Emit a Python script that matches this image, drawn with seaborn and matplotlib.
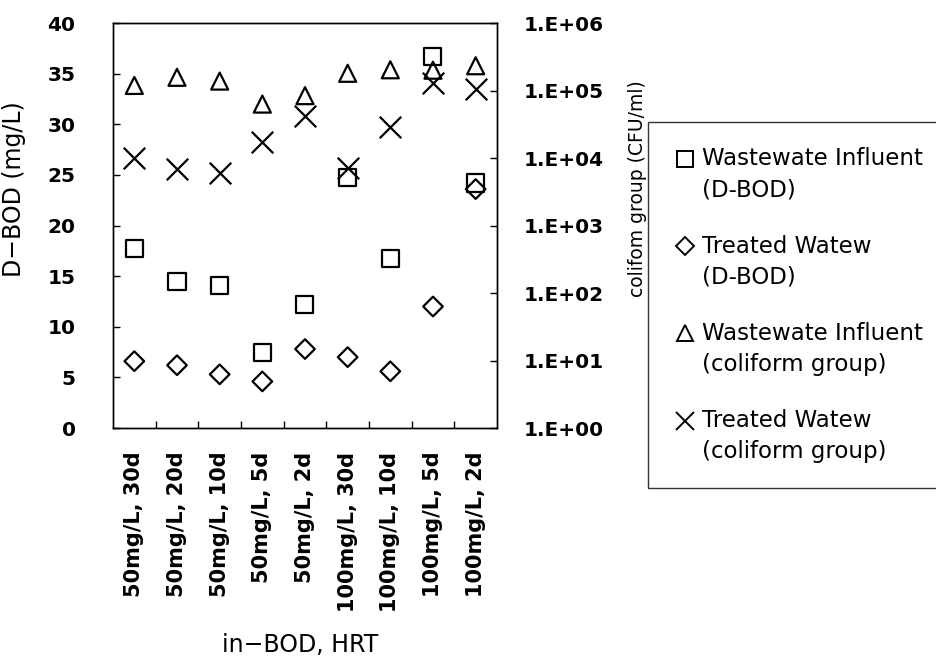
import numpy as np
import pandas as pd
import matplotlib
matplotlib.use("Agg")
import matplotlib.pyplot as plt
from matplotlib.lines import Line2D
from matplotlib.legend_handler import HandlerLine2D
from matplotlib.ticker import FixedLocator, NullLocator
import seaborn as sns

# values
conditions = ["50mg/L, 30d", "50mg/L, 20d", "50mg/L, 10d", "50mg/L, 5d", "50mg/L, 2d",
              "100mg/L, 30d", "100mg/L, 10d", "100mg/L, 5d", "100mg/L, 2d"]
dbod_influent = [17.7, 14.5, 14.1, 7.5, 12.2, 24.7, 16.7, 36.7, 24.2]
dbod_treated = [6.6, 6.2, 5.3, 4.6, 7.8, 7.0, 5.6, 12.0, 23.6]
coli_influent = [1.19e5, 1.57e5, 1.38e5, 6.3e4, 8.4e4, 1.8e5, 2.03e5, 2.0e5, 2.33e5]
coli_treated = [9.9e3, 6.8e3, 5.9e3, 1.74e4, 4.2e4, 7.1e3, 2.9e4, 1.28e5, 1.05e5]

bod_ticks = [0, 5, 10, 15, 20, 25, 30, 35, 40]
coli_ticks = [1e0, 1e1, 1e2, 1e3, 1e4, 1e5, 1e6]
coli_ticklabels = ["1.E+00", "1.E+01", "1.E+02", "1.E+03", "1.E+04", "1.E+05", "1.E+06"]

series_labels = ["Wastewate Influent\n(D-BOD)", "Treated Watew\n(D-BOD)",
                 "Wastewate Influent\n(coliform group)", "Treated Watew\n(coliform group)"]

sns.set_theme(style="white")
plt.rcParams["font.family"] = ["DejaVu Sans"]
plt.rcParams["text.color"] = "black"
plt.rcParams["axes.labelcolor"] = "black"
plt.rcParams["xtick.color"] = "black"
plt.rcParams["ytick.color"] = "black"

pos = np.arange(len(conditions))
df = pd.DataFrame({"pos": pos, "condition": conditions,
                   "bod_in": dbod_influent, "bod_out": dbod_treated,
                   "coli_in": coli_influent, "coli_out": coli_treated})

fig = plt.figure(figsize=(9.37, 6.6), dpi=100)
ax = fig.add_axes([0.1206, 0.3515, 0.4098, 0.6136])
ax2 = ax.twinx()

# D-BOD on the left axis
sns.scatterplot(data=df, x="pos", y="bod_in", marker="s", s=150, facecolor="none",
                edgecolor="black", linewidth=1.6, ax=ax, legend=False)
sns.scatterplot(data=df, x="pos", y="bod_out", marker="D", s=100, facecolor="none",
                edgecolor="black", linewidth=1.6, ax=ax, legend=False)
# coliform group on the right (log) axis
ax2.set_yscale("log")
sns.scatterplot(data=df, x="pos", y="coli_in", marker="^", s=150, facecolor="none",
                edgecolor="black", linewidth=1.6, ax=ax2, legend=False)
sns.scatterplot(data=df, x="pos", y="coli_out", marker="x", s=240, color="black",
                linewidth=1.6, ax=ax2, legend=False)

ax.set_xlim(-0.5, len(conditions) - 0.5)
ax.set_ylim(0, 40)
ax2.set_ylim(1, 1e6)

ax.set_xticks(pos)
ax.set_xticklabels(conditions, rotation=90, fontsize=15, fontweight="bold", va="top")
ax.xaxis.set_minor_locator(FixedLocator(pos[:-1] + 0.5))
ax.tick_params(axis="x", which="major", length=0, pad=17)
ax.tick_params(axis="x", which="minor", bottom=True, direction="in", length=5, width=1, color="black")

ax.set_yticks(bod_ticks)
ax.set_yticklabels([str(t) for t in bod_ticks], fontsize=14.5, fontweight="bold")
ax.tick_params(axis="y", left=True, direction="in", length=5, width=1, color="black", pad=27)

ax2.set_yticks(coli_ticks)
ax2.set_yticklabels(coli_ticklabels, fontsize=14.5, fontweight="bold")
ax2.yaxis.set_minor_locator(NullLocator())
ax2.tick_params(axis="y", right=True, direction="in", length=5, width=1, color="black", pad=19)

ax.set_xlabel("in\u2212BOD, HRT", fontsize=17)
ax.xaxis.set_label_coords(0.487, -0.505)
ax.set_ylabel("D\u2212BOD (mg/L)", fontsize=17)
ax.yaxis.set_label_coords(-0.227, 0.59)
ax2.set_ylabel("colifom group (CFU/ml)", fontsize=13.5)
ax2.yaxis.set_label_coords(1.341, 0.59)

for a in (ax, ax2):
    for sp in a.spines.values():
        sp.set_color("black")
        sp.set_linewidth(1)


def shift_up(legend_handle, orig_handle):
    # put the marker next to the first line of the two-line label
    legend_handle.update_from(orig_handle)
    legend_handle.set_ydata(np.asarray(legend_handle.get_ydata()) + 12)


handles = [
    Line2D([], [], ls="none", marker="s", ms=11, mfc="none", mec="black", mew=1.4),
    Line2D([], [], ls="none", marker="D", ms=9, mfc="none", mec="black", mew=1.4),
    Line2D([], [], ls="none", marker="^", ms=12, mfc="none", mec="black", mew=1.4),
    Line2D([], [], ls="none", marker="x", ms=13, color="black", mew=1.4),
]
leg = fig.legend(handles, series_labels, loc="upper left", bbox_to_anchor=(0.6916, 0.8152),
                 frameon=True, fancybox=False, edgecolor="black", fontsize=16.5,
                 handlelength=1.0, handletextpad=0.25, borderpad=1.1, labelspacing=1.45,
                 borderaxespad=0, handler_map={Line2D: HandlerLine2D(update_func=shift_up)})
leg.get_frame().set_linewidth(1)
for t in leg.get_texts():
    t.set_linespacing(1.45)

fig.savefig("out.png", dpi=100)
